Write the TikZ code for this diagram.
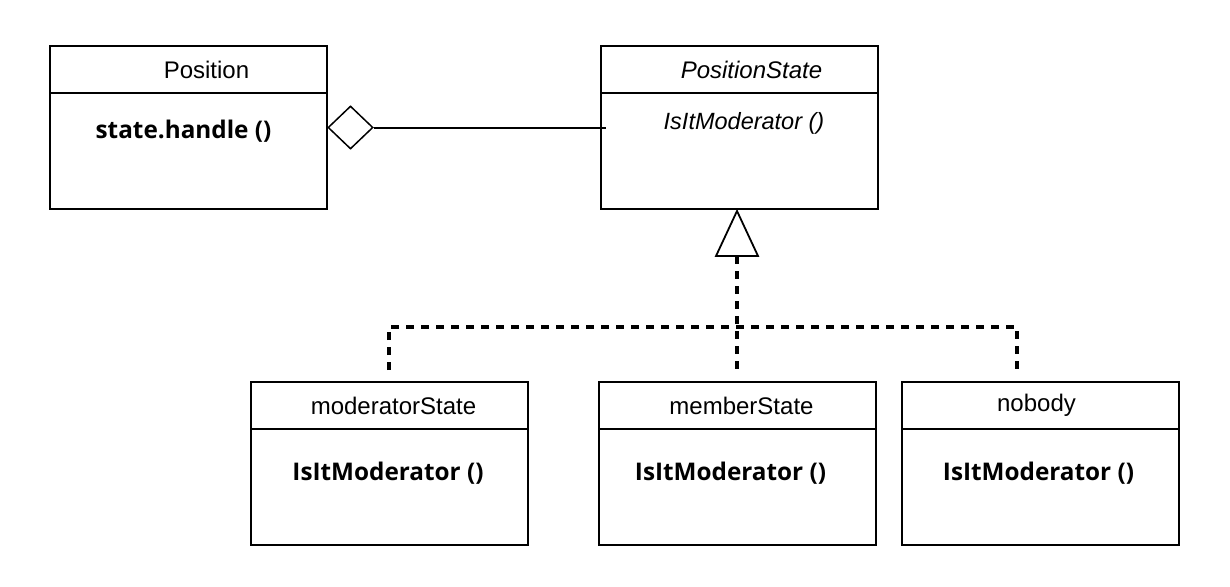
\documentclass[tikz,border=0pt]{standalone}
\usepackage{fontspec}
\usetikzlibrary{shapes.geometric,calc}
\newfontfamily\helv{Liberation Sans}
\newfontfamily\methfont{Open Sans}
\begin{document}
\begin{tikzpicture}[x=1pt,y=-1pt,
  hdr/.style={draw, line width=2pt, outer sep=0pt, minimum width=277pt, minimum height=47pt, anchor=north west, inner sep=0pt},
  bodybox/.style={draw, line width=2pt, outer sep=0pt, minimum width=277pt, minimum height=116pt, anchor=north west, inner sep=0pt},
  ttl/.style={inner sep=0pt, font=\helv\fontsize{24}{28}\selectfont},
  meth/.style={inner sep=0pt, font=\methfont\bfseries\fontsize{24.3}{28}\selectfont},
  imeth/.style={inner sep=0pt, font=\helv\itshape\fontsize{23.5}{27}\selectfont},
  solidline/.style={line width=2pt},
  dashline/.style={line width=4.5pt, dash pattern=on 8pt off 7pt},
]
\useasboundingbox (0,0) rectangle (1230,586);
% Position
\node[hdr] (pos) at (50,46) {};
\node[ttl] (post) at ($(pos.center)+(18,0)$) {Position};
\node[bodybox] (posb) at (pos.south west) {};
\node[meth] (posm) at ($(posb.north)+(-5,38)$) {state.handle ()};
% PositionState
\node[hdr] (ps) at (601,46) {};
\node[ttl, font=\helv\itshape\fontsize{24}{28}\selectfont] (pst) at ($(ps.center)+(12,0)$) {PositionState};
\node[bodybox] (psb) at (ps.south west) {};
\node[imeth] (psm) at ($(psb.north)+(4.5,30)$) {IsItModerator ()};
% subclasses
\node[hdr] (mod) at (251,382) {};
\node[ttl] (modt) at ($(mod.center)+(4,0)$) {moderatorState};
\node[bodybox] (modb) at (mod.south west) {};
\node[meth] (modm) at ($(modb.north)+(-1.5,44)$) {IsItModerator ()};
\node[hdr] (mem) at (599,382) {};
\node[ttl] (memt) at ($(mem.center)+(4,0)$) {memberState};
\node[bodybox] (memb) at (mem.south west) {};
\node[meth] (memm) at ($(memb.north)+(-7,44)$) {IsItModerator ()};
\node[hdr] (nob) at (902,382) {};
\node[ttl] (nobt) at ($(nob.center)+(-4,0)$) {nobody};
\node[bodybox] (nobb) at (nob.south west) {};
\node[meth] (nobm) at ($(nobb.north)+(-2,44)$) {IsItModerator ()};
% aggregation
\node[draw, diamond, line width=1.5pt, minimum width=45pt, minimum height=43pt, inner sep=0pt] (dia) at (350.5,127.5) {};
\draw[solidline] (dia.east) -- ($(psb.west |- dia.east)+(5,0)$);
% generalization
\coordinate (apex) at (737,211);
\draw[line width=1.8pt, line join=miter] (apex) -- ++(-21,45) coordinate (tl) -- ++(42,0) coordinate (tr) -- cycle;
\coordinate (tribase) at ($(tl)!0.5!(tr)$);
\coordinate (jl) at (389,327);
\coordinate (jr) at (1017,327);
\draw[dashline] (tribase) -- (737,370);
\draw[dashline] (389,370) -- (jl) -- (jr) -- (1017,370);
\end{tikzpicture}
\end{document}
